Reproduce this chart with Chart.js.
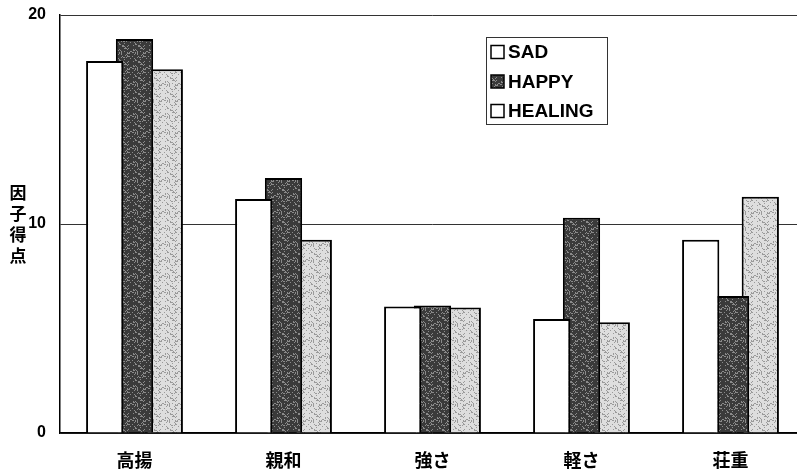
<!DOCTYPE html>
<html>
<head>
<meta charset="utf-8">
<script src="https://cdn.jsdelivr.net/npm/chart.js@4"></script>
<style>
  html, body { margin: 0; padding: 0; overflow: hidden; background: #fff; }
  #wrap { width: 805px; height: 472px; }
</style>
</head>
<body>
<div id="wrap"><canvas id="chart" width="805" height="472"></canvas></div>
<script>
// Factor scores per mood
const categories = ['高揚', '親和', '強さ', '軽さ', '荘重'];
const seriesNames = ['SAD', 'HAPPY', 'HEALING'];
const sadValues = [17.8, 11.2, 6.05, 5.45, 9.25];
const happyValues = [18.85, 12.2, 6.1, 10.3, 6.55];
const healingValues = [17.4, 9.25, 6.0, 5.3, 11.3];
const yTicks = [0, 10, 20];
const yTitle = '因子得点';

const latin = '"Liberation Sans", Arial, sans-serif';
const cjk = '"Noto Sans CJK JP", sans-serif';

// Speckled fill to imitate the printed halftone
function makePattern(base, speck, density) {
    const size = 16;
    const c = document.createElement('canvas');
    c.width = size; c.height = size;
    const g = c.getContext('2d');
    g.fillStyle = base;
    g.fillRect(0, 0, size, size);
    g.fillStyle = speck;
    for (let i = 0; i < size; i++) {
        for (let j = 0; j < size; j++) {
            const h = ((i * 73856093) ^ (j * 19349663) ^ (i * j * 83492791)) >>> 0;
            if (h % 100 < density) g.fillRect(i, j, 1, 1);
        }
    }
    return g.createPattern(c, 'repeat');
}

const happyFill = makePattern('#3a3a3a', '#8a8a8a', 22);
const healingFill = makePattern('#dedede', '#9a9a9a', 20);
const fills = ['#ffffff', happyFill, healingFill];

// y-axis title written as stacked characters + legend box inside the plot
const decorPlugin = {
    id: 'decor',
    afterDraw(chart) {
        const ctx = chart.ctx;
        ctx.save();
        ctx.fillStyle = '#000';
        ctx.font = 'bold 17px ' + cjk;
        ctx.textAlign = 'center';
        ctx.textBaseline = 'middle';
        [...yTitle].forEach((ch, i) => ctx.fillText(ch, 18, 193 + i * 21));

        // legend
        const lx = 486.5, ly = 37.5;
        ctx.strokeStyle = '#333';
        ctx.lineWidth = 1;
        ctx.fillStyle = '#fff';
        ctx.fillRect(lx, ly, 121, 87);
        ctx.strokeRect(lx, ly, 121, 87);
        ctx.font = 'bold 19px ' + latin;
        ctx.textAlign = 'left';
        seriesNames.forEach((name, i) => {
            const cy = 52 + i * 29.5;
            ctx.fillStyle = i === 1 ? happyFill : '#fff';
            ctx.fillRect(491, cy - 6.5, 13, 13);
            ctx.strokeStyle = '#000';
            ctx.lineWidth = 1.5;
            ctx.strokeRect(491, cy - 6.5, 13, 13);
            ctx.fillStyle = '#000';
            ctx.fillText(name, 508, cy + 1);
        });
        ctx.restore();
    }
};

const seriesValues = [sadValues, happyValues, healingValues];

new Chart(document.getElementById('chart'), {
    type: 'bar',
    data: {
        labels: categories,
        datasets: seriesNames.map((name, i) => ({
            label: name,
            data: seriesValues[i],
            backgroundColor: fills[i],
            borderColor: '#000',
            borderWidth: 2,
            categoryPercentage: 0.6,
            barPercentage: 1.25
        }))
    },
    options: {
        responsive: false,
        animation: false,
        devicePixelRatio: 1,
        layout: { padding: { top: 15, right: 0, left: 0, bottom: 0 } },
        plugins: {
            legend: { display: false },
            tooltip: { enabled: false }
        },
        scales: {
            x: {
                grid: { display: false },
                border: { display: true, color: '#000', width: 1.5 },
                ticks: {
                    color: '#000',
                    font: { family: cjk, size: 18, weight: 'bold' },
                    padding: 8,
                    maxRotation: 0
                },
                afterFit(scale) { scale.height = 39; }
            },
            y: {
                min: 0,
                max: 20,
                afterBuildTicks(scale) { scale.ticks = yTicks.map(v => ({ value: v })); },
                grid: { color: '#333', lineWidth: 1, drawTicks: false },
                border: { display: true, color: '#000', width: 1.5 },
                ticks: {
                    color: '#000',
                    font: { family: latin, size: 16, weight: 'bold' },
                    padding: 14
                },
                afterFit(scale) {
                    scale.width = 60;
                    scale.paddingTop = 0;
                    scale.paddingBottom = 0;
                }
            }
        }
    },
    plugins: [decorPlugin]
});
</script>
</body>
</html>
